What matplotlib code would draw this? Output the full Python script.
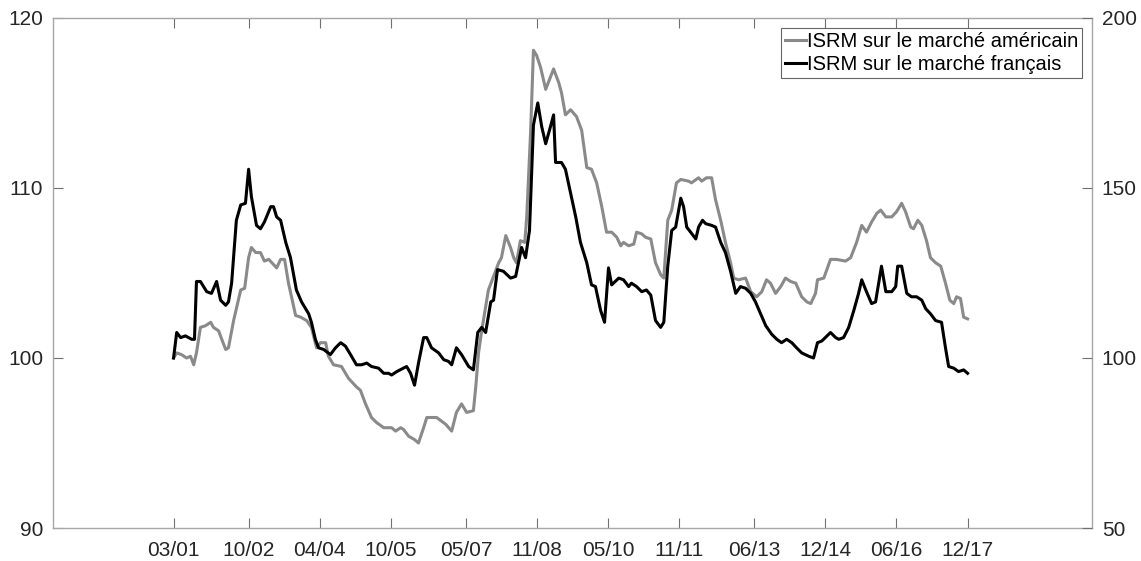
import matplotlib
matplotlib.use("Agg")
import matplotlib.pyplot as plt

# x positions: months since March 2001 (03/01 = 0, 12/17 = 201)
tick_months = [0, 19, 37, 55, 74, 92, 110, 128, 147, 165, 183, 201]
tick_labels = ["03/01", "10/02", "04/04", "10/05", "05/07", "11/08",
               "05/10", "11/11", "06/13", "12/14", "06/16", "12/17"]

us_months = [0, 0.8, 2.0, 3.3, 4.3, 5.1, 5.8, 6.8, 8.1, 9.4, 10.1, 11.4, 12.2, 13.2, 13.9,
             15.2, 17.0, 18.0, 19.0, 19.7, 20.8, 22.0, 23.0, 24.1, 26.1, 27.1, 28.1, 29.1,
             30.9, 32.2, 33.7, 34.9, 36.2, 37.2, 38.5, 39.2, 40.5, 42.5, 44.3, 46.3, 47.3,
             48.6, 50.1, 51.4, 53.2, 55.2, 56.2, 57.5, 58.2, 59.5, 61.0, 62.0, 63.3, 64.1,
             65.3, 66.6, 68.9, 70.4, 71.6, 72.9, 74.2, 75.9, 76.5, 77.2, 78.0, 79.0, 79.7,
             81.0, 82.3, 83.0, 84.1, 85.3, 86.1, 86.8, 87.8, 88.9, 89.4, 90.4, 91.1, 91.9,
             92.9, 94.2, 95.2, 96.2, 97.5, 98.2, 99.2, 100.5, 102.0, 103.3, 104.6, 105.8,
             107.1, 108.4, 109.6, 110.9, 112.2, 113.2, 113.9, 115.2, 116.5, 117.2, 118.5,
             119.5, 120.8, 122.0, 123.3, 124.1, 125.1, 126.1, 127.3, 128.4, 130.4, 131.1,
             132.9, 133.7, 134.9, 136.2, 137.2, 138.5, 139.7, 141.0, 141.8, 143.0, 144.8,
             146.1, 147.6, 148.9, 150.1, 151.1, 152.4, 153.7, 154.9, 156.2, 157.5, 159.0,
             160.3, 161.3, 162.5, 163.0, 164.6, 166.3, 167.8, 170.1, 171.4, 172.9, 174.2,
             175.4, 176.7, 178.0, 179.0, 180.3, 181.8, 183.0, 184.3, 185.3, 186.6, 187.3,
             188.4, 189.4, 190.6, 191.6, 192.9, 194.2, 195.4, 196.5, 197.5, 198.2, 199.2,
             200.0, 201.0]
us_values = [100.0, 100.3, 100.2, 100.0, 100.1, 99.6, 100.3, 101.8, 101.9, 102.1, 101.8,
             101.6, 101.1, 100.5, 100.6, 102.2, 104.0, 104.1, 105.9, 106.5, 106.2, 106.2,
             105.7, 105.8, 105.3, 105.8, 105.8, 104.4, 102.5, 102.4, 102.2, 101.8, 100.6,
             100.9, 100.9, 100.1, 99.6, 99.5, 98.8, 98.3, 98.1, 97.3, 96.5, 96.2, 95.9, 95.9,
             95.7, 95.9, 95.8, 95.4, 95.2, 95.0, 95.9, 96.5, 96.5, 96.5, 96.1, 95.7, 96.8,
             97.3, 96.8, 96.9, 98.3, 100.3, 101.6, 103.0, 104.0, 104.8, 105.6, 105.9, 107.2,
             106.5, 105.9, 105.6, 106.9, 106.8, 108.3, 113.4, 118.1, 117.8, 117.1, 115.8,
             116.4, 117.0, 116.2, 115.6, 114.3, 114.6, 114.2, 113.4, 111.2, 111.1, 110.3,
             108.9, 107.4, 107.4, 107.1, 106.6, 106.8, 106.6, 106.7, 107.4, 107.3, 107.1,
             107.0, 105.6, 104.9, 104.7, 108.1, 108.7, 110.3, 110.5, 110.4, 110.3, 110.6,
             110.4, 110.6, 110.6, 109.3, 108.1, 106.8, 105.6, 104.7, 104.6, 104.7, 103.9,
             103.6, 103.9, 104.6, 104.4, 103.8, 104.2, 104.7, 104.5, 104.4, 103.6, 103.3,
             103.2, 103.8, 104.6, 104.7, 105.8, 105.8, 105.7, 105.9, 106.8, 107.8, 107.4,
             108.0, 108.5, 108.7, 108.3, 108.3, 108.6, 109.1, 108.6, 107.7, 107.6, 108.1,
             107.8, 106.9, 105.9, 105.6, 105.4, 104.4, 103.4, 103.2, 103.6, 103.5, 102.4,
             102.3]

fr_months = [0, 0.8, 1.8, 3.0, 4.6, 5.3, 5.8, 6.8, 8.4, 9.6, 10.9, 11.9, 13.2, 13.9, 14.7,
             15.9, 17.0, 18.2, 19.0, 19.7, 21.0, 22.0, 23.0, 24.6, 25.3, 26.1, 27.1, 28.4,
             29.6, 31.1, 32.4, 34.2, 34.9, 35.9, 36.7, 38.0, 39.7, 41.0, 42.3, 43.5, 44.8,
             46.3, 47.6, 48.9, 50.1, 51.9, 53.2, 54.4, 55.2, 56.5, 59.0, 60.0, 61.0, 62.0,
             63.3, 64.1, 65.3, 67.1, 68.4, 69.6, 70.4, 71.6, 72.9, 74.7, 75.9, 77.0, 78.0,
             79.0, 80.3, 81.0, 82.0, 83.5, 85.3, 86.6, 87.3, 88.1, 89.1, 90.1, 91.1, 92.2,
             93.2, 94.2, 95.4, 96.2, 96.7, 98.2, 99.2, 100.5, 101.8, 103.0, 104.6, 105.8,
             106.8, 108.1, 109.1, 110.1, 110.9, 112.7, 113.9, 115.2, 115.9, 117.2, 118.5,
             119.7, 120.8, 122.0, 123.3, 124.1, 125.1, 126.1, 127.1, 128.4, 129.1, 129.9,
             130.9, 132.2, 132.9, 133.9, 134.7, 136.2, 137.2, 138.5, 139.7, 141.0, 142.3,
             143.5, 144.8, 146.1, 147.3, 148.6, 149.9, 151.4, 152.7, 153.9, 155.2, 156.5,
             157.7, 159.0, 160.8, 162.0, 163.0, 164.1, 166.3, 167.6, 168.4, 169.6, 170.9,
             172.2, 173.4, 174.2, 175.4, 176.7, 177.7, 178.5, 179.2, 180.3, 181.8, 182.8,
             183.3, 184.3, 185.6, 186.8, 188.1, 189.4, 190.4, 191.6, 192.9, 194.4, 195.4,
             196.2, 197.5, 198.7, 200.0, 201.0]
fr_values = [100.0, 101.5, 101.2, 101.3, 101.1, 101.1, 104.5, 104.5, 103.9, 103.8, 104.5,
             103.4, 103.1, 103.3, 104.4, 108.1, 109.0, 109.1, 111.1, 109.5, 107.8, 107.6,
             108.0, 108.9, 108.9, 108.3, 108.1, 106.8, 105.9, 104.0, 103.3, 102.6, 102.1,
             101.1, 100.6, 100.5, 100.2, 100.6, 100.9, 100.7, 100.2, 99.6, 99.6, 99.7, 99.5,
             99.4, 99.1, 99.1, 99.0, 99.2, 99.5, 99.1, 98.4, 99.7, 101.2, 101.2, 100.6,
             100.3, 99.9, 99.8, 99.6, 100.6, 100.2, 99.5, 99.3, 101.5, 101.8, 101.5, 103.3,
             103.4, 105.2, 105.1, 104.7, 104.8, 105.6, 106.5, 105.9, 107.5, 113.7, 115.0,
             113.6, 112.6, 113.6, 114.3, 111.5, 111.5, 111.1, 109.7, 108.3, 106.8, 105.6,
             104.3, 104.2, 102.8, 102.1, 105.3, 104.3, 104.7, 104.6, 104.2, 104.4, 104.2,
             103.9, 104.0, 103.7, 102.2, 101.8, 102.1, 105.4, 107.5, 107.7, 109.4, 108.9,
             107.7, 107.4, 107.0, 107.7, 108.1, 107.9, 107.8, 107.7, 106.8, 106.2, 105.1,
             103.8, 104.2, 104.1, 103.8, 103.3, 102.6, 101.9, 101.4, 101.1, 100.9, 101.1,
             100.9, 100.6, 100.3, 100.1, 100.0, 100.9, 101.0, 101.5, 101.2, 101.1, 101.2,
             101.8, 102.8, 103.8, 104.6, 103.9, 103.2, 103.3, 104.4, 105.4, 103.9, 103.9,
             104.2, 105.4, 105.4, 103.8, 103.6, 103.6, 103.4, 102.9, 102.6, 102.2, 102.1,
             100.6, 99.5, 99.4, 99.2, 99.3, 99.1]

label_us = "ISRM sur le marché américain"
label_fr = "ISRM sur le marché français"

plt.rcParams['font.family'] = ['Liberation Sans', 'DejaVu Sans']

fig = plt.figure(figsize=(11.41, 5.61), dpi=100)
ax = fig.add_axes([0.0465, 0.0588, 0.9106, 0.9092])

ax.plot(us_months, us_values, color='#8a8a8a', lw=2.2, label=label_us)
ax.plot(fr_months, fr_values, color='black', lw=2.2, label=label_fr)

ax.set_xlim(-30.5, 232.5)
ax.set_ylim(90, 120)
ax.set_yticks([90, 100, 110, 120])
ax.set_xticks(tick_months)
ax.set_xticklabels(tick_labels)

spine_col = '#a6a6a6'
for s in ax.spines.values():
    s.set_color(spine_col)
    s.set_linewidth(1.0)
ax.tick_params(axis='both', direction='in', length=7, width=0.8, color='#707070',
               labelsize=15, labelcolor='#262626', pad=7)
ax.tick_params(axis='x', top=True, pad=9)

ax2 = ax.twinx()
ax2.set_ylim(50, 200)
ax2.set_yticks([50, 100, 150, 200])
for s in ax2.spines.values():
    s.set_visible(False)
ax2.tick_params(axis='y', direction='in', length=7, width=0.8, color='#707070',
                labelsize=15, labelcolor='#262626', pad=7)

leg = ax.legend(loc='upper right', bbox_to_anchor=(0.9904, 0.9804), fontsize=14.5,
                frameon=True, fancybox=False, handlelength=1.05, handletextpad=0.05,
                borderpad=0.2, labelspacing=0.2, borderaxespad=0.0)
leg.get_frame().set_edgecolor('#404040')
leg.get_frame().set_linewidth(0.8)
for h in leg.get_lines():
    h.set_linewidth(2.2)

fig.savefig("out.png", dpi=100)
